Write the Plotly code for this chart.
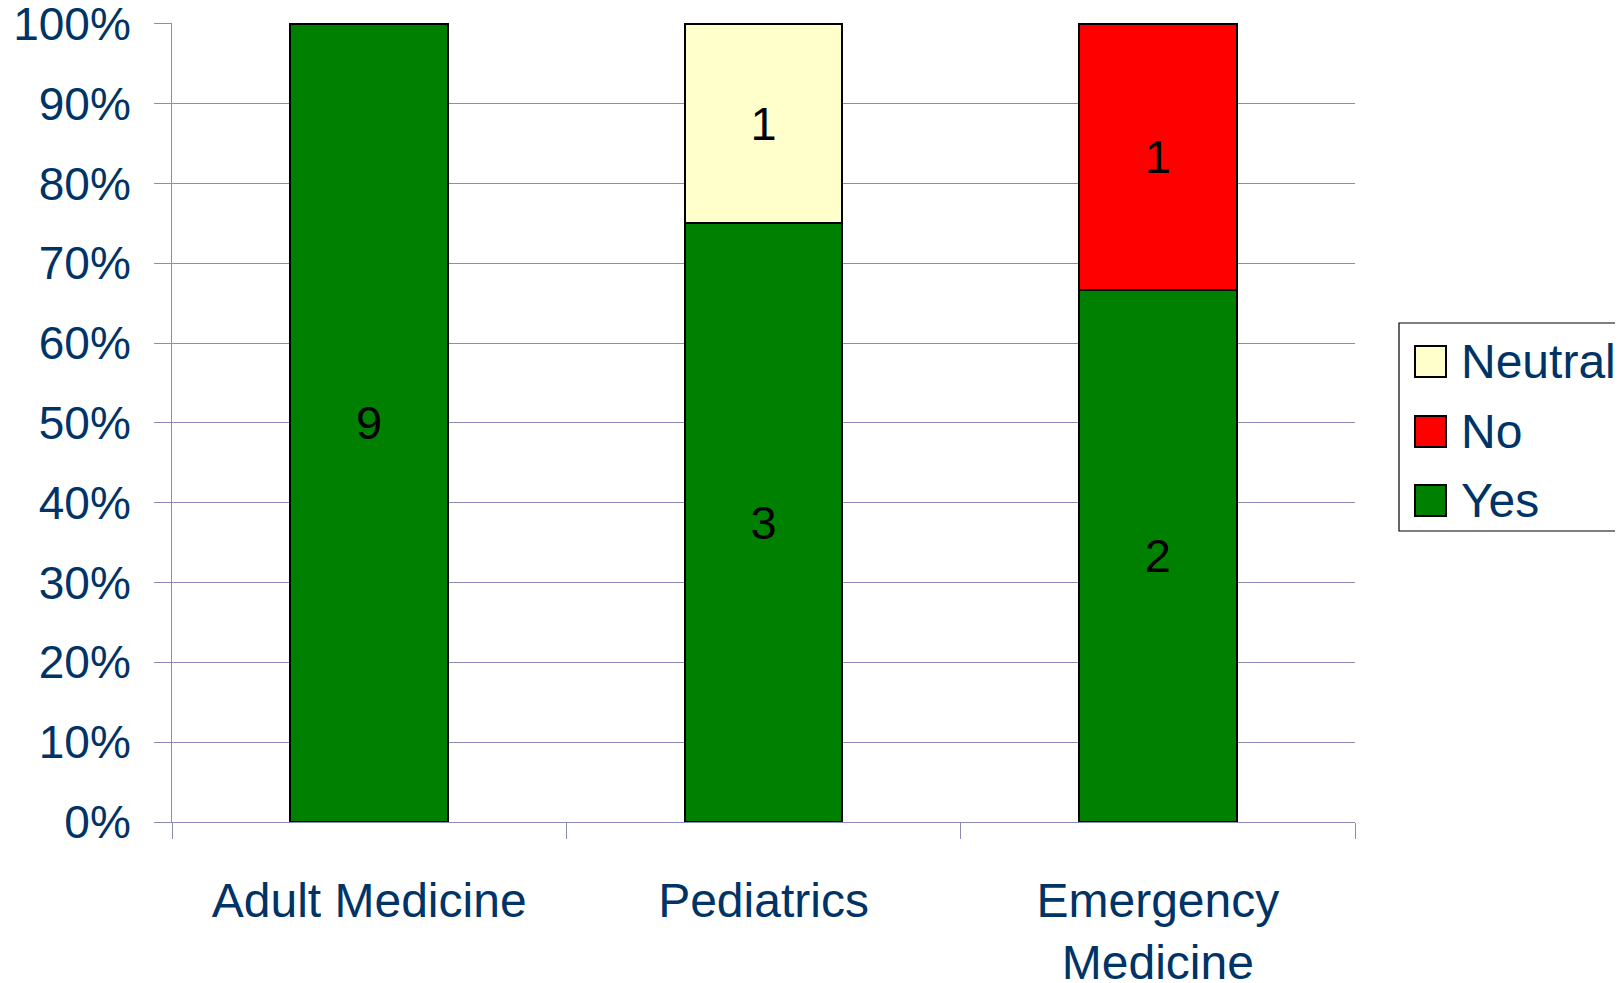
import plotly.graph_objects as go

categories = ["Adult Medicine", "Pediatrics", "Emergency<br>Medicine"]
yes_counts = [9, 3, 2]
no_counts = [0, 0, 1]
neutral_counts = [0, 1, 0]

series_names = ["Yes", "No", "Neutral"]
series_colors = ["#008000", "#FF0000", "#FFFFCC"]
series_values = [yes_counts, no_counts, neutral_counts]

y_ticks = [0, 0.1, 0.2, 0.3, 0.4, 0.5, 0.6, 0.7, 0.8, 0.9, 1.0]

# page has an 8px body margin; work in page pixels and subtract it
OFF = 8
W, H = 1623 - OFF, 983 - OFF
ML = 172 - OFF
MT = 23 - OFF
MR = 1623 - 1355
MB = 983 - 822
FONT = "Liberation Sans, Arial, sans-serif"
NAVY = "#003366"
GRID = "#8B8BB5"

fig = go.Figure()
for name, color, vals in zip(series_names, series_colors, series_values):
    fig.add_trace(go.Bar(
        x=categories, y=vals, name=name,
        marker=dict(color=color, line=dict(color="#000000", width=2)),
        text=[str(v) if v else "" for v in vals],
        textposition="inside", insidetextanchor="middle", textangle=0,
        textfont=dict(family=FONT, size=47, color="#000000"),
        showlegend=False, hoverinfo="skip",
    ))

pw = W - ML - MR
ph = H - MT - MB

def px_x(x):
    return (x - OFF - ML) / pw

def px_y(y):
    return (H - MB - (y - OFF)) / ph

shapes = [dict(type="rect", xref="paper", yref="paper",
               x0=px_x(1399), x1=px_x(1700), y0=px_y(531), y1=px_y(323),
               line=dict(color="#000000", width=1.2), fillcolor="#FFFFFF", layer="above")]
annotations = []
legend_order = [2, 1, 0]
centers = [361.5, 431.5, 500.5]
for idx, cy in zip(legend_order, centers):
    shapes.append(dict(type="rect", xref="paper", yref="paper",
                       x0=px_x(1415), x1=px_x(1446), y0=px_y(cy + 15.5), y1=px_y(cy - 15.5),
                       line=dict(color="#000000", width=2), fillcolor=series_colors[idx], layer="above"))
    annotations.append(dict(xref="paper", yref="paper", x=px_x(1459), y=px_y(cy),
                            xanchor="left", yanchor="middle", showarrow=False,
                            text=series_names[idx],
                            font=dict(family=FONT, size=48, color=NAVY)))

fig.update_layout(
    width=W, height=H,
    margin=dict(l=ML, r=MR, t=MT, b=MB, autoexpand=False),
    barmode="stack", barnorm="fraction", bargap=0.6,
    paper_bgcolor="#FFFFFF", plot_bgcolor="#FFFFFF",
    font=dict(family=FONT, size=46, color=NAVY),
    showlegend=False,
    shapes=shapes, annotations=annotations,
    xaxis=dict(
        type="category", tickson="boundaries", ticks="outside", ticklen=16,
        tickcolor=GRID, tickwidth=1, showgrid=False, showline=True,
        linecolor=GRID, linewidth=1, tickfont=dict(family=FONT, size=48, color=NAVY),
        ticklabelstandoff=36, range=[-0.5, 2.5],
    ),
    yaxis=dict(
        range=[0, 1.001], tickvals=y_ticks, tickformat=".0%",
        ticks="outside", ticklen=17, tickcolor=GRID, tickwidth=1,
        showgrid=True, gridcolor=GRID, gridwidth=1,
        showline=True, linecolor=GRID, linewidth=1, zeroline=False,
        tickfont=dict(family=FONT, size=46, color=NAVY),
        ticklabelstandoff=14, ticklabeloverflow="allow",
    ),
)

fig.write_html("out.html")
